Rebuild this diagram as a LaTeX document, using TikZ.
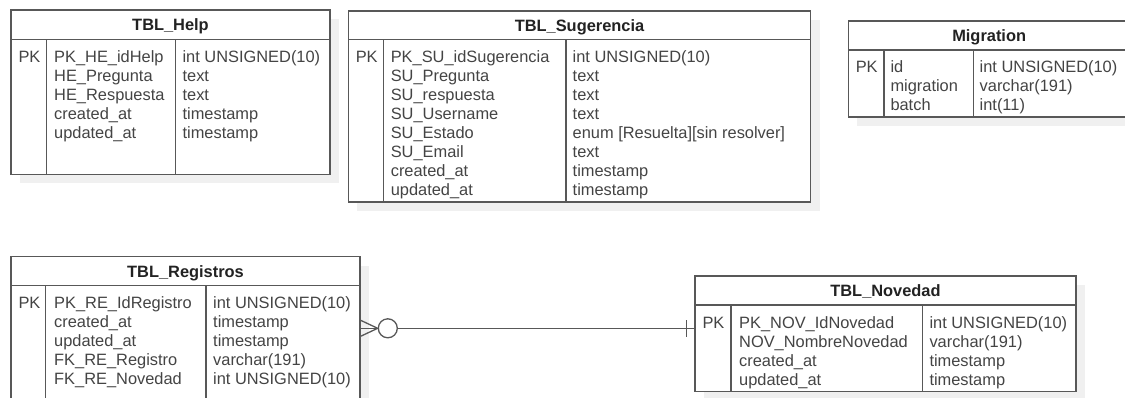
\documentclass[tikz,border=0pt]{standalone}
\usepackage{fontspec}
\setmainfont{Liberation Sans}
\definecolor{linec}{RGB}{88,88,88}
\definecolor{textc}{RGB}{68,68,68}
\definecolor{titlec}{RGB}{34,34,34}
\definecolor{shadowc}{RGB}{240,240,240}
\newcommand\cellfont{\fontsize{16.4}{19}\selectfont}
\newcommand\titlefont{\fontsize{16.4}{19}\selectfont\bfseries}
\tikzset{
  frame/.style={draw=linec, line width=1.4pt},
  conn/.style={draw=linec, line width=1.3pt},
  cell/.style={anchor=base west, inner sep=0pt, font=\cellfont, text=textc},
  ttl/.style={anchor=base, inner sep=0pt, font=\titlefont, text=titlec},
}
% #1 id, #2 L, #3 T, #4 R, #5 header bottom, #6 B, #7 d1, #8 d2, #9 title
\newcommand\ertable[9]{%
  \fill[shadowc] (#2+9,#3+9) rectangle (#4+9,#6+9);
  \fill[white] (#2,#3) rectangle (#4,#6);
  \draw[frame] (#2,#3) rectangle (#4,#6);
  \draw[frame] (#2,#5) -- (#4,#5);
  \draw[frame] (#7,#5) -- (#7,#6);
  \draw[frame] (#8,#5) -- (#8,#6);
  \node[ttl] (#1-title) at ({(#2+#4)/2},{(#3+#5)/2+5.9}) {#9};
  \node[cell] (#1-pk) at (#2+7.3,#5+23) {PK};
}
% #1 id, #2 name x, #3 type x, #4 first baseline, #5 list name/type
\newcommand\errows[5]{%
  \foreach \nm/\ty [count=\i from 0] in {#5} {
    \node[cell] (#1-n\i) at (#2,#4+19*\i) {\nm};
    \node[cell] (#1-t\i) at (#3,#4+19*\i) {\ty};
  }
}
\begin{document}
\begin{tikzpicture}[x=1pt,y=-1pt]
\useasboundingbox (0,0) rectangle (1125,398);

% TBL_Help
\ertable{help}{11}{10}{330}{39.5}{174.3}{46.7}{175.7}{TBL\_Help}
\errows{help}{54}{182.4}{62.5}{PK\_HE\_idHelp/{int UNSIGNED(10)},HE\_Pregunta/text,HE\_Respuesta/text,created\_at/timestamp,updated\_at/timestamp}

% TBL_Sugerencia
\ertable{sug}{348.3}{11}{810.7}{39.3}{202}{383.3}{566}{TBL\_Sugerencia}
\errows{sug}{390.6}{572.5}{62.3}{PK\_SU\_idSugerencia/{int UNSIGNED(10)},SU\_Pregunta/text,SU\_respuesta/text,SU\_Username/text,SU\_Estado/{enum [Resuelta][sin resolver]},SU\_Email/text,created\_at/timestamp,updated\_at/timestamp}

% Migration (its right side runs past the picture's edge)
\ertable{mig}{848.3}{21}{1130}{50}{117}{884}{973.3}{Migration}
\errows{mig}{890.3}{979.5}{73}{id/{int UNSIGNED(10)},migration/{varchar(191)},batch/{int(11)}}

% TBL_Registros
\ertable{reg}{11}{256.7}{360}{285.7}{420}{45.7}{206}{TBL\_Registros}
\errows{reg}{54}{213}{308.7}{PK\_RE\_IdRegistro/{int UNSIGNED(10)},created\_at/timestamp,updated\_at/timestamp,FK\_RE\_Registro/{varchar(191)},FK\_RE\_Novedad/{int UNSIGNED(10)}}

% TBL_Novedad
\ertable{nov}{695}{276}{1076}{305}{391.7}{731}{922.3}{TBL\_Novedad}
\errows{nov}{739}{929.3}{328}{PK\_NOV\_IdNovedad/{int UNSIGNED(10)},NOV\_NombreNovedad/{varchar(191)},created\_at/timestamp,updated\_at/timestamp}

% relationship: many (zero or more) to one
\coordinate (regfk) at (360,328.3);
\coordinate (novpk) at (695,328.3);
\node[circle, conn, fill=white, minimum size=19pt, inner sep=0pt] (zero) at (387.8,328.3) {};
\draw[conn] (regfk) -- (zero.west);
\draw[conn] ([yshift=8.3pt]regfk) -- (zero.west) -- ([yshift=-8.3pt]regfk);
\draw[conn] (zero.east) -- (novpk);
\draw[conn] ([xshift=-8.3pt,yshift=8.3pt]novpk) -- ([xshift=-8.3pt,yshift=-8.3pt]novpk);
\end{tikzpicture}
\end{document}
